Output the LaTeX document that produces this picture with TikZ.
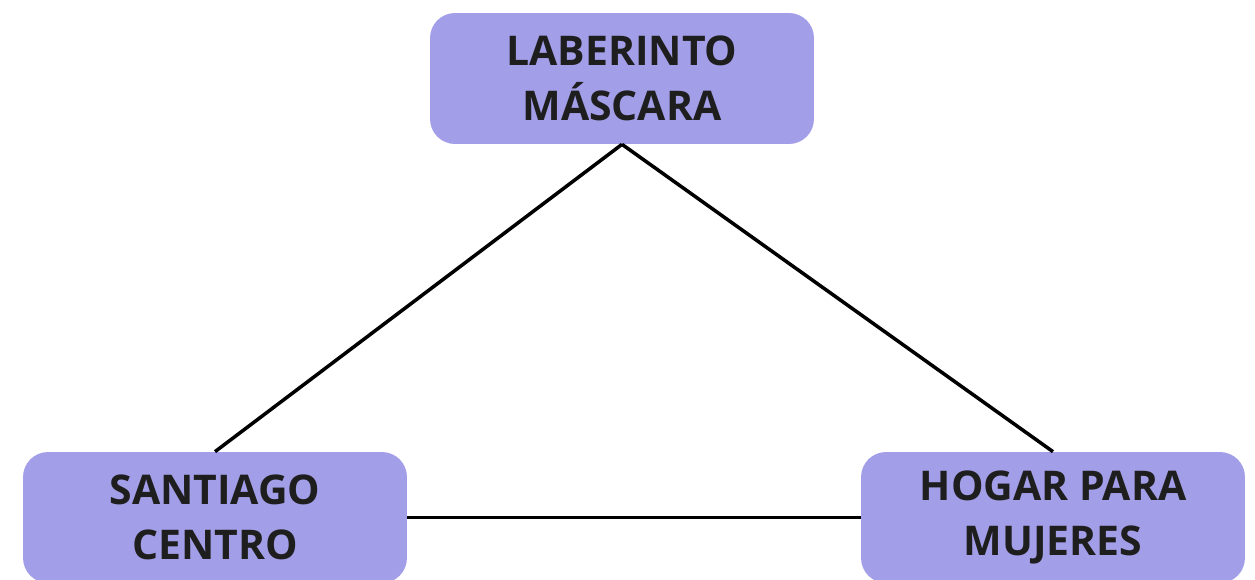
\documentclass[tikz,border=0pt]{standalone}
\usepackage{fontspec}
\setmainfont{Open Sans}
\usepackage{tikz}
\usetikzlibrary{positioning}
\definecolor{lila}{HTML}{A39EE8}
\definecolor{tinta}{HTML}{1E1E1E}

\begin{document}
\begin{tikzpicture}[x=0.02cm,y=-0.02cm,
font=\fontsize{23.3}{31.5}\selectfont\bfseries,
lugar/.style={fill=lila,rounded corners=0.5cm,align=center,text=tinta,minimum width=7.68cm,minimum height=2.62cm,inner sep=0pt},
linea/.style={line width=2pt,draw=black}]
\useasboundingbox[fill=white] (0,0) rectangle (1255,579);
\clip (0,0) rectangle (1255,579);
\node[lugar] (lab) at (622,78.5) {LABERINTO\\MÁSCARA};
\node[lugar] (stgo) at (215,517.5) {SANTIAGO\\CENTRO};
\node[lugar] (hogar) at (1053,517.5) {HOGAR PARA\\MUJERES};
\draw[linea] (lab.south)--(stgo.north);
\draw[linea] (lab.south)--(hogar.north);
\draw[linea] (stgo.east)--(hogar.west);
\end{tikzpicture}
\end{document}
